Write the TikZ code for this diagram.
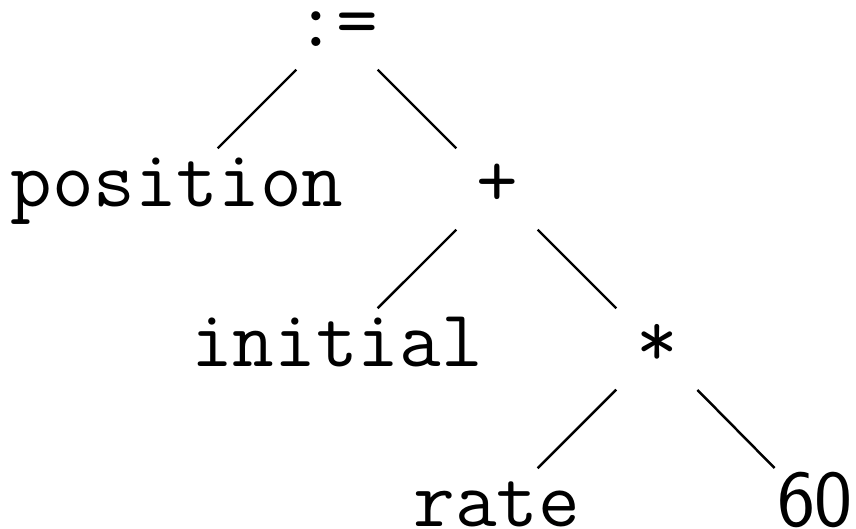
\documentclass[tikz,border=0pt]{standalone}
\usepackage{tikz}
\tikzset{
  leaf/.style={font=\fontsize{23}{28}\selectfont\ttfamily, anchor=base, inner sep=0pt,
               text height=0.36cm, text depth=0cm},
  numleaf/.style={leaf, font=\fontsize{23}{28}\selectfont\sffamily},
  branch/.style={line width=0.7pt, shorten <=0.575cm, shorten >=0.575cm}
}
\begin{document}
\begin{tikzpicture}
  \useasboundingbox (0,0) rectangle (8.56,-5.29);
  \node (assign) [leaf] at (3.37,-0.47) {:=};
  \node (position) [leaf] at (1.77,-2.07) {position};
  \node (plus) [leaf] at (4.97,-2.07) {+};
  \node (initial) [leaf] at (3.37,-3.67) {initial};
  \node (times) [leaf] at (6.57,-3.67) {*};
  \node (rate) [leaf] at (4.97,-5.27) {rate};
  \node (sixty) [numleaf] at (8.15,-5.27) {60};

  \draw[branch] (assign.center) -- (position.center);
  \draw[branch] (assign.center) -- (plus.center);
  \draw[branch] (plus.center) -- (initial.center);
  \draw[branch] (plus.center) -- (times.center);
  \draw[branch] (times.center) -- (rate.center);
  \draw[branch] (times.center) -- (sixty.center);
\end{tikzpicture}
\end{document}
